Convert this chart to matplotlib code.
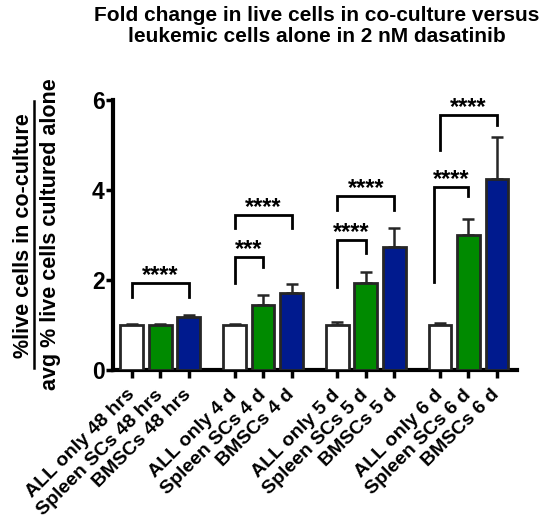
import matplotlib
matplotlib.use("Agg")
import matplotlib.pyplot as plt
from matplotlib.lines import Line2D
import numpy as np

plt.rcParams['font.family'] = ['Liberation Sans', 'DejaVu Sans']
plt.rcParams['font.weight'] = 'bold'

# Data
timepoints = ["48 hrs", "4 d", "5 d", "6 d"]
conditions = ["ALL only", "Spleen SCs", "BMSCs"]
means = [1.00, 0.99, 1.17,
         1.00, 1.44, 1.72,
         1.00, 1.93, 2.73,
         1.00, 2.99, 4.24]
sems = [0.02, 0.03, 0.06,
        0.02, 0.22, 0.19,
        0.06, 0.24, 0.42,
        0.04, 0.36, 0.93]
bar_colors = ["#ffffff", "#008a00", "#001a8e"]

# Significance brackets: (bar a, bar b, bracket height, left leg end, right leg end, label)
brackets = [
    (0, 2, 1.93, 1.62, 1.62, "****"),
    (3, 4, 2.52, 1.93, 2.30, "***"),
    (3, 5, 3.44, 3.15, 3.15, "****"),
    (6, 7, 2.89, 1.85, 2.61, "****"),
    (6, 8, 3.87, 3.56, 3.56, "****"),
    (9, 10, 4.07, 1.96, 3.87, "****"),
    (9, 11, 5.67, 4.90, 5.44, "****"),
]
bracket_left_shift = {5: -0.2}

labels = [f"{c} {t}" for t in timepoints for c in conditions]
group_step = 3.6
x = np.array([g * group_step + i for g in range(len(timepoints)) for i in range(len(conditions))])
colors = [bar_colors[i] for g in range(len(timepoints)) for i in range(len(conditions))]

fig = plt.figure(figsize=(5.44, 5.18), dpi=100)
ax = fig.add_axes([113 / 544, 1 - 370 / 518, (517 - 113) / 544, (370 - 100) / 518])

edge = "#262626"
ax.bar(x, means, width=0.8, color=colors, edgecolor=edge, linewidth=2.0, zorder=3)
ax.errorbar(x, means, yerr=[np.zeros(len(sems)), sems], fmt="none", ecolor=edge,
            elinewidth=1.8, capsize=4.5, capthick=1.8, zorder=2)

for k, (a, b, ytop, yl, yr, lab) in enumerate(brackets):
    xa = x[a] + bracket_left_shift.get(k, 0.0)
    xb = x[b]
    ax.plot([xa, xa, xb, xb], [yl, ytop, ytop, yr], color="black", lw=2.0,
            solid_joinstyle="miter", clip_on=False, zorder=4)
    ax.text((xa + xb) / 2, ytop + 0.02, lab, ha="center", va="baseline",
            fontsize=17, fontweight="bold", clip_on=False)

ax.set_xlim(-0.66, x[-1] + 0.70)
ax.set_ylim(0, 6)
ax.set_yticks([0, 2, 4, 6])
ax.set_yticklabels(["0", "2", "4", "6"], fontsize=16.5, fontweight="bold")
ax.set_xticks(x)
ax.set_xticklabels(labels, rotation=45, ha="right", va="center", rotation_mode="anchor",
                   fontsize=14, fontweight="bold")

for side in ("top", "right"):
    ax.spines[side].set_visible(False)
for side in ("left", "bottom"):
    ax.spines[side].set_linewidth(3.0)
ax.tick_params(axis="x", length=6, width=2.5, pad=10)
ax.tick_params(axis="y", length=5, width=2.5, pad=1)

# Title
fig.text(317 / 544, 1 - 6 / 518,
         "Fold change in live cells in co-culture versus\nleukemic cells alone in 2 nM dasatinib",
         ha="center", va="top", fontsize=15, fontweight="bold", linespacing=1.15)

# Y-axis label written as a fraction
fig.text(23.5 / 544, 1 - 236 / 518, "%live cells in co-culture", rotation=90,
         ha="center", va="center", fontsize=15.5, fontweight="bold")
fig.text(51 / 544, 1 - 234 / 518, "avg % live cells cultured alone", rotation=90,
         ha="center", va="center", fontsize=15.5, fontweight="bold")
fig.add_artist(Line2D([34 / 544, 34 / 544], [1 - 368 / 518, 1 - 101 / 518],
                      transform=fig.transFigure, color="black", lw=1.8))

fig.savefig("out.png", dpi=100)
